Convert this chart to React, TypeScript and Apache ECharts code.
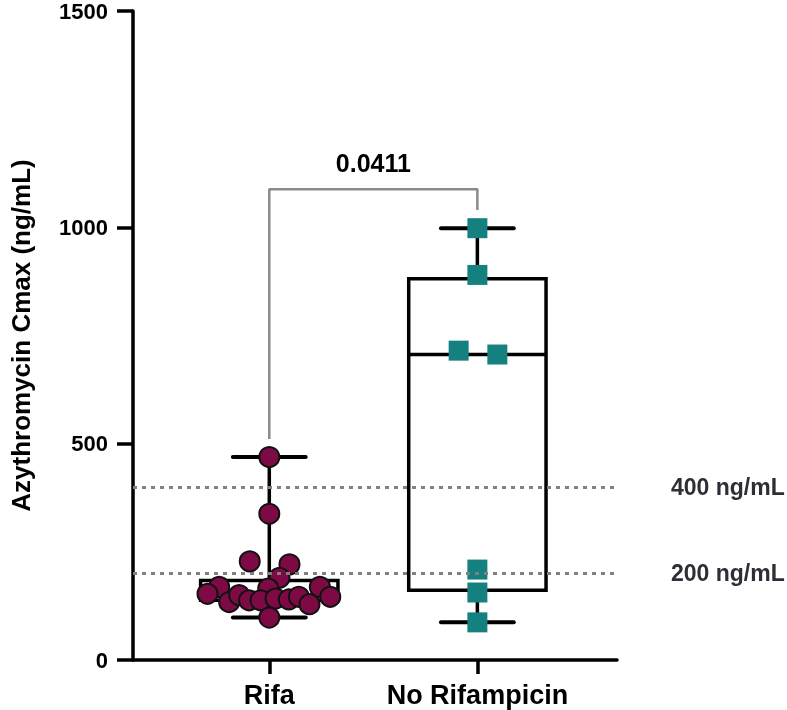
import React, { useEffect, useRef } from "react";
import * as echarts from "echarts";

const categories = ["Rifa", "No Rifampicin"];
const categoryPositions = [1, 2];

const rifaValues = [469, 338, 228, 221, 190, 169, 153, 169, 146, 165, 134, 150, 138, 138, 142, 140, 146, 129, 98];
const rifaJitter = [0, 0, -0.094, 0.097, 0.049, -0.241, -0.297, 0.243, 0.293, -0.005, -0.193, -0.145, -0.097, -0.042, 0.03, 0.094, 0.142, 0.193, 0];

const noRifValues = [998, 890, 715, 706, 209, 156, 87];
const noRifJitter = [0, 0, -0.09, 0.096, 0, 0, 0];

// [position, min, Q1, median, Q3, max]
const rifaBox = [1, 98, 138, 148, 184, 469];
const noRifBox = [2, 87, 161, 706, 881, 998];

const referenceLines = [400, 200];
const referenceLabels = ["400 ng/mL", "200 ng/mL"];

const bracket = { left: 511, top: 1088, right: 1040 };
const pValue = "0.0411";

const yTicks = { min: 0, max: 1500, interval: 500 };
const yTitle = "Azythromycin Cmax (ng/mL)";

const FONT = "'Liberation Sans', Arial, sans-serif";

export default function App() {
  const ref = useRef<HTMLDivElement>(null);

  useEffect(() => {
    if (!ref.current) return;
    const chart = echarts.init(ref.current, undefined, { renderer: "svg" });

    const BOX_HALF = 0.33;
    const CAP_HALF = 0.175;

    const renderBox = (params: any, api: any) => {
      const x = api.value(0);
      const mn = api.value(1);
      const q1 = api.value(2);
      const med = api.value(3);
      const q3 = api.value(4);
      const mx = api.value(5);
      const pL = api.coord([x - BOX_HALF, q3]);
      const pR = api.coord([x + BOX_HALF, q1]);
      const pMedL = api.coord([x - BOX_HALF, med]);
      const pMedR = api.coord([x + BOX_HALF, med]);
      const pc = api.coord([x, 0]);
      const yMax = api.coord([x, mx])[1];
      const yMin = api.coord([x, mn])[1];
      const capL = api.coord([x - CAP_HALF, 0])[0];
      const capR = api.coord([x + CAP_HALF, 0])[0];
      const stroke = { stroke: "#000", lineWidth: 3.5, fill: null, lineCap: "round" };
      return {
        type: "group",
        children: [
          { type: "line", shape: { x1: pc[0], y1: pL[1], x2: pc[0], y2: yMax }, style: stroke },
          { type: "line", shape: { x1: pc[0], y1: pR[1], x2: pc[0], y2: yMin }, style: stroke },
          { type: "line", shape: { x1: capL, y1: yMax, x2: capR, y2: yMax }, style: { ...stroke, lineWidth: 4 } },
          { type: "line", shape: { x1: capL, y1: yMin, x2: capR, y2: yMin }, style: { ...stroke, lineWidth: 4 } },
          {
            type: "rect",
            shape: { x: pL[0], y: pL[1], width: pR[0] - pL[0], height: pR[1] - pL[1] },
            style: { stroke: "#000", lineWidth: 3.5, fill: "none", lineJoin: "miter" },
          },
          { type: "line", shape: { x1: pMedL[0], y1: pMedL[1], x2: pMedR[0], y2: pMedR[1] }, style: { ...stroke, lineCap: "butt" } },
        ],
      };
    };

    chart.setOption({
      animation: false,
      grid: { left: 128.5, right: 170, top: 8, bottom: 50, containLabel: false },
      xAxis: {
        type: "value",
        min: 0.345,
        max: 2.671,
        splitLine: { show: false },
        axisLine: { show: true, onZero: false, lineStyle: { color: "#000", width: 3.5 } },
        axisTick: { show: true, length: 14, lineStyle: { color: "#000", width: 3.5 }, customValues: categoryPositions },
        axisLabel: {
          show: true,
          customValues: categoryPositions,
          formatter: (v: number) => categories[Math.round(v) - 1] ?? "",
          color: "#000",
          fontFamily: FONT,
          fontWeight: "bold",
          fontSize: 27,
          margin: 21,
        },
      },
      yAxis: {
        type: "value",
        min: yTicks.min,
        max: yTicks.max,
        interval: yTicks.interval,
        splitLine: { show: false },
        axisLine: { show: true, lineStyle: { color: "#000", width: 3.5 } },
        axisTick: { show: true, length: 16, lineStyle: { color: "#000", width: 3.5 } },
        axisLabel: {
          color: "#000",
          fontFamily: FONT,
          fontWeight: "bold",
          fontSize: 22,
          margin: 25,
          formatter: (v: number) => String(v),
        },
        name: yTitle,
        nameLocation: "middle",
        nameGap: 99,
        nameTextStyle: { color: "#000", fontFamily: FONT, fontWeight: "bold", fontSize: 26 },
      },
      series: [
        {
          type: "line",
          data: [],
          z: 1,
          silent: true,
          markLine: {
            silent: true,
            symbol: "none",
            lineStyle: { color: "#808080", type: [4, 5], width: 3 },
            label: {
              show: true,
              position: "end",
              distance: 54,
              color: "#2e2e36",
              fontFamily: FONT,
              fontWeight: "bold",
              fontSize: 23,
              formatter: (p: any) => referenceLabels[p.dataIndex],
            },
            data: referenceLines.map((v) => ({ yAxis: v })),
          },
        },
        {
          type: "line",
          z: 2,
          silent: true,
          showSymbol: false,
          symbol: "none",
          lineStyle: { color: "#8a8a8a", width: 2.5 },
          data: [
            [categoryPositions[0], bracket.left],
            [categoryPositions[0], bracket.top],
            [categoryPositions[1], bracket.top],
            [categoryPositions[1], bracket.right],
          ],
        },
        {
          type: "scatter",
          z: 2,
          silent: true,
          symbolSize: 0,
          itemStyle: { opacity: 1 },
          data: [[(categoryPositions[0] + categoryPositions[1]) / 2, bracket.top]],
          label: {
            show: true,
            position: "top",
            distance: 14,
            formatter: () => pValue,
            color: "#000",
            opacity: 1,
            fontFamily: FONT,
            fontWeight: "bold",
            fontSize: 25,
          },
        },
        {
          type: "custom",
          z: 3,
          silent: true,
          renderItem: renderBox,
          data: [rifaBox, noRifBox],
          encode: { x: 0, y: [1, 2, 3, 4, 5] },
        },
        {
          type: "scatter",
          z: 4,
          symbol: "circle",
          symbolSize: 20,
          itemStyle: { color: "#7d0a45", borderColor: "#111", borderWidth: 2, opacity: 1 },
          data: rifaValues.map((v, i) => [categoryPositions[0] + rifaJitter[i], v]),
        },
        {
          type: "scatter",
          z: 4,
          symbol: "rect",
          symbolSize: 20,
          itemStyle: { color: "#158080", opacity: 1 },
          data: noRifValues.map((v, i) => [categoryPositions[1] + noRifJitter[i], v]),
        },
      ],
    });

    return () => chart.dispose();
  }, []);

  return <div ref={ref} style={{ position: "fixed", left: 0, top: 0, width: 787, height: 710 }} />;
}
